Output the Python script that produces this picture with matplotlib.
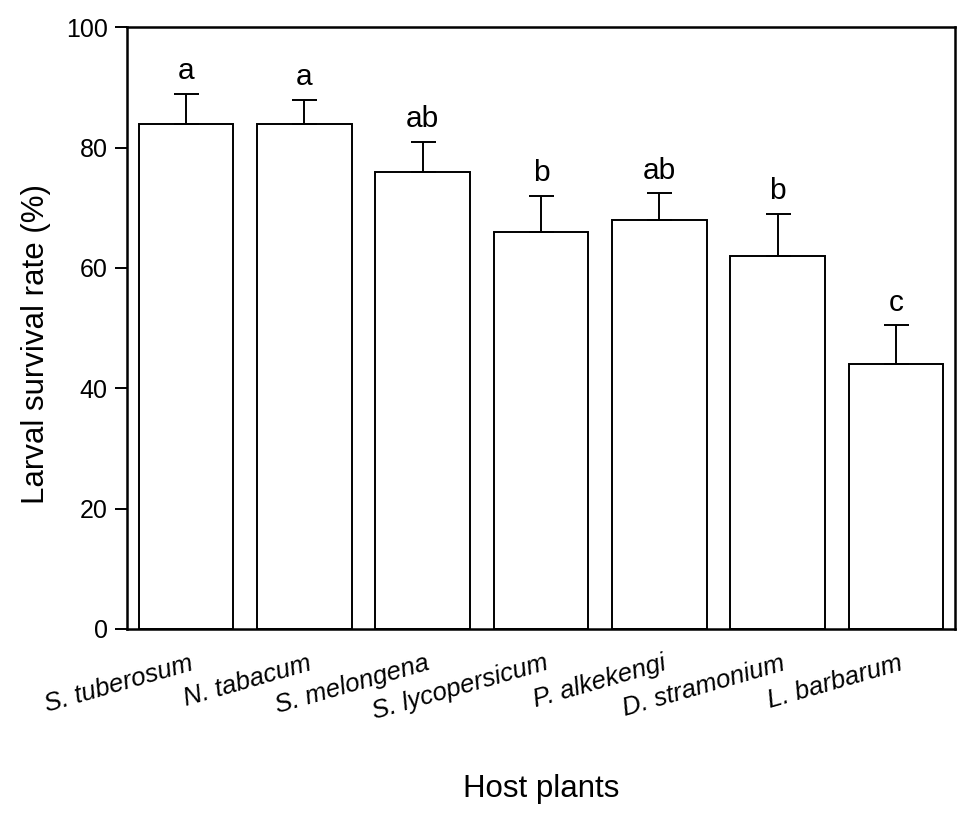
import matplotlib

matplotlib.use("Agg")
import matplotlib.pyplot as plt
import matplotlib.transforms as mtransforms

plt.rcParams["font.family"] = ["Liberation Sans", "DejaVu Sans"]

hosts = [
    "S. tuberosum",
    "N. tabacum",
    "S. melongena",
    "S. lycopersicum",
    "P. alkekengi",
    "D. stramonium",
    "L. barbarum",
]
survival = [84, 84, 76, 66, 68, 62, 44]
survival_se = [5, 4, 5, 6, 4.4, 7, 6.5]
groups = ["a", "a", "ab", "b", "ab", "b", "c"]

fig = plt.figure(figsize=(9.74, 8.18), dpi=100)
ax = fig.add_axes([0.1304, 0.2311, 0.8501, 0.7355])

x = range(len(hosts))
ax.bar(x, survival, width=0.8, color="white", edgecolor="black", linewidth=1.4, zorder=2)
ax.errorbar(x, survival, yerr=[[0] * len(hosts), survival_se], fmt="none",
            ecolor="black", elinewidth=1.4, capsize=9, capthick=1.4, zorder=3)

for xi, m, e, g in zip(x, survival, survival_se, groups):
    ax.text(xi, m + e + 2.4, g, ha="center", va="baseline", fontsize=21.5)

ax.set_xlim(-0.5, len(hosts) - 0.5)
ax.set_ylim(0, 100)
ax.set_yticks([0, 20, 40, 60, 80, 100])
ax.tick_params(axis="y", direction="out", length=9, width=1.4, labelsize=18, pad=5)
ax.tick_params(axis="x", length=0, pad=16)
ax.set_xticks(list(x))
ax.set_xticklabels(hosts, rotation=16, ha="right", fontstyle="italic", fontsize=18.5)
offset = mtransforms.ScaledTranslation(7 / 72, 0, fig.dpi_scale_trans)
for lab in ax.get_xticklabels():
    lab.set_transform(lab.get_transform() + offset)

for spine in ax.spines.values():
    spine.set_linewidth(1.8)

ax.set_ylabel("Larval survival rate (%)", fontsize=22.5)
ax.yaxis.set_label_coords(-0.092, 0.473)
ax.set_xlabel("Host plants", fontsize=22.5, labelpad=36)

fig.savefig("out.png", dpi=100)
